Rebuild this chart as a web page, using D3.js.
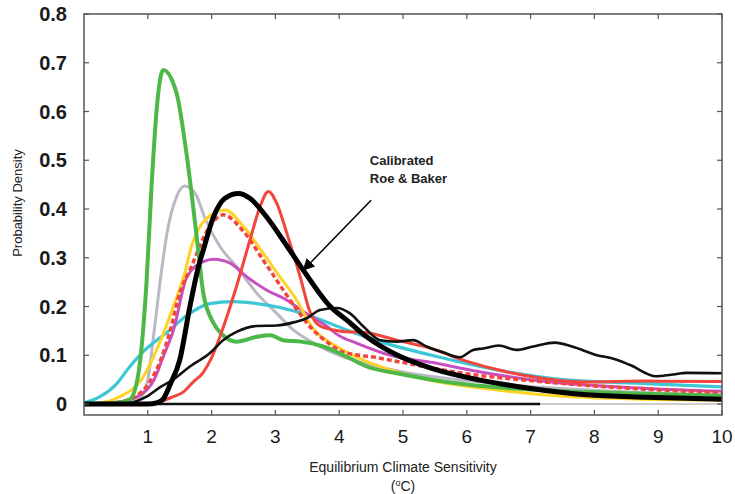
<!DOCTYPE html>
<html>
<head>
<meta charset="utf-8">
<script src="https://cdn.jsdelivr.net/npm/d3@7"></script>
<style>
  body { margin: 0; background: #fff; }
  svg { display: block; font-family: "Liberation Sans", Arial, sans-serif; }
</style>
</head>
<body>
<div id="chart"></div>
<script>
// ---- data: [sensitivity (degC), probability density] ----
var xTicks = [1, 2, 3, 4, 5, 6, 7, 8, 9, 10];
var yTicks = [0, 0.1, 0.2, 0.3, 0.4, 0.5, 0.6, 0.7, 0.8];

var grayPdf = [[0,0],[0.7,0.003],[0.9,0.015],[1.0,0.05],[1.1,0.15],[1.19,0.248],[1.3,0.35],[1.45,0.425],[1.58,0.447],[1.75,0.43],[1.9,0.38],[2.13,0.323],[2.39,0.282],[2.71,0.227],[3.02,0.186],[3.28,0.152],[3.6,0.125],[4,0.1],[4.5,0.08],[5,0.066],[6,0.048],[7,0.036],[8,0.028],[9,0.022],[10,0.018]];

var cyanPdf = [[0,0.002],[0.25,0.015],[0.5,0.04],[0.72,0.077],[0.95,0.11],[1.14,0.131],[1.35,0.152],[1.5,0.17],[1.66,0.186],[1.97,0.206],[2.34,0.21],[2.71,0.206],[3.07,0.198],[3.49,0.183],[4.12,0.152],[4.64,0.128],[5.45,0.1],[6.47,0.07],[7.51,0.05],[8.82,0.042],[10,0.035]];

var magentaPdf = [[0,0],[0.5,0.003],[0.9,0.02],[1.1,0.05],[1.25,0.1],[1.4,0.15],[1.61,0.26],[1.87,0.292],[2.03,0.297],[2.29,0.289],[2.55,0.261],[2.86,0.234],[3.18,0.213],[3.49,0.185],[3.8,0.16],[4.0,0.14],[4.27,0.125],[4.8,0.1],[5.47,0.085],[6.05,0.07],[7,0.05],[7.88,0.039],[8.82,0.032],[10,0.026]];

var yellowPdf = [[0,0],[0.3,0.003],[0.56,0.015],[0.9,0.05],[1.2,0.13],[1.4,0.2],[1.56,0.26],[1.7,0.33],[1.82,0.364],[2.03,0.391],[2.21,0.398],[2.5,0.364],[2.81,0.309],[3.07,0.261],[3.3,0.22],[3.59,0.155],[3.96,0.118],[4.38,0.09],[4.8,0.07],[5.45,0.048],[6.47,0.029],[7.5,0.016],[8.5,0.011],[10,0.008]];

var redDashPdf = [[0,0],[0.5,0.003],[0.8,0.015],[1.0,0.04],[1.16,0.077],[1.35,0.15],[1.5,0.227],[1.66,0.275],[1.97,0.364],[2.18,0.388],[2.5,0.354],[2.81,0.295],[3.02,0.254],[3.3,0.2],[3.59,0.152],[3.8,0.128],[4.06,0.107],[4.59,0.095],[5,0.085],[6,0.062],[7,0.048],[8,0.037],[9,0.029],[10,0.023]];

var greenPdf = [[0,0],[0.5,0.002],[0.72,0.01],[0.85,0.06],[0.98,0.25],[1.06,0.45],[1.15,0.62],[1.24,0.685],[1.45,0.638],[1.6,0.52],[1.79,0.316],[1.87,0.227],[2.03,0.166],[2.18,0.141],[2.39,0.128],[2.71,0.138],[2.92,0.141],[3.12,0.131],[3.4,0.128],[3.75,0.118],[4.12,0.097],[4.43,0.077],[4.9,0.063],[5.45,0.05],[6,0.04],[7,0.03],[8,0.024],[9,0.02],[10,0.017]];

var redPdf = [[0,0],[1.0,0.001],[1.2,0.005],[1.4,0.015],[1.56,0.025],[1.71,0.045],[1.87,0.065],[2.0,0.095],[2.13,0.138],[2.39,0.241],[2.6,0.336],[2.76,0.405],[2.89,0.436],[3.02,0.412],[3.18,0.35],[3.39,0.26],[3.54,0.19],[3.7,0.16],[4.0,0.15],[4.48,0.145],[4.9,0.131],[5.42,0.115],[5.94,0.09],[6.73,0.063],[7.88,0.045],[8.82,0.047],[10,0.046]];

var thinBlackPdf = [[0,0],[0.7,0.002],[0.98,0.015],[1.2,0.035],[1.4,0.05],[1.66,0.077],[1.97,0.104],[2.18,0.131],[2.39,0.148],[2.71,0.16],[3.02,0.161],[3.3,0.168],[3.49,0.176],[3.7,0.193],[3.96,0.197],[4.17,0.186],[4.38,0.159],[4.64,0.131],[4.9,0.128],[5.16,0.131],[5.37,0.118],[5.65,0.105],[5.89,0.096],[6.1,0.111],[6.26,0.114],[6.5,0.12],[6.78,0.111],[7.04,0.118],[7.38,0.126],[7.65,0.118],[8.04,0.1],[8.3,0.093],[8.56,0.08],[8.97,0.057],[9.2,0.06],[9.45,0.064],[10,0.063]];

var roeBakerPdf = [[0,0],[1.0,0],[1.15,0.003],[1.24,0.01],[1.35,0.04],[1.5,0.09],[1.66,0.2],[1.79,0.28],[1.87,0.316],[2.03,0.384],[2.21,0.422],[2.42,0.432],[2.6,0.422],[2.86,0.384],[3.12,0.336],[3.45,0.272],[3.86,0.2],[4.12,0.172],[4.43,0.138],[4.85,0.104],[5.45,0.073],[6.21,0.049],[7,0.032],[7.88,0.019],[8.82,0.014],[10,0.01]];

var zeroLine = [[0,0],[7.15,0]];

// annotation: label anchor and arrow tail/tip in data units
var annotLabel = ["Calibrated", "Roe & Baker"];
var annotPos = [4.48, 0.49];
var arrowFrom = [4.5, 0.418];
var arrowTo = [3.44, 0.275];

// ---- layout ----
var width = 735, height = 494;
var margin = {top: 14, right: 13, bottom: 79, left: 84};

var svg = d3.select("#chart").append("svg")
  .attr("width", width)
  .attr("height", height);

var x = d3.scaleLinear().domain([0, 10]).range([margin.left, width - margin.right]);
var y = d3.scaleLinear().domain([-0.0225, 0.8]).range([height - margin.bottom, margin.top]);

var line = d3.line()
  .x(function(d) { return x(d[0]); })
  .y(function(d) { return y(d[1]); })
  .curve(d3.curveMonotoneX);

var plot = svg.append("g");

// thin zero baseline and black zero segment
plot.append("line")
  .attr("x1", x(7.15)).attr("x2", x(10))
  .attr("y1", y(0)).attr("y2", y(0))
  .attr("stroke", "#9a9a9a").attr("stroke-width", 1);

plot.append("path")
  .datum(zeroLine)
  .attr("d", line)
  .attr("fill", "none")
  .attr("stroke", "#111")
  .attr("stroke-width", 2.5);

var series = [
  {data: grayPdf,      color: "#b9b9c6", w: 3},
  {data: cyanPdf,      color: "#3cc6d6", w: 3.2},
  {data: magentaPdf,   color: "#c84fc0", w: 3},
  {data: yellowPdf,    color: "#ffd324", w: 3},
  {data: redDashPdf,   color: "#f2453c", w: 3.5, dash: "5,3"},
  {data: greenPdf,     color: "#4cb848", w: 4},
  {data: redPdf,       color: "#f2453c", w: 3},
  {data: thinBlackPdf, color: "#111", w: 2.6},
  {data: roeBakerPdf,  color: "#000", w: 5}
];

series.forEach(function(s) {
  plot.append("path")
    .datum(s.data)
    .attr("d", line)
    .attr("fill", "none")
    .attr("stroke", s.color)
    .attr("stroke-width", s.w)
    .attr("stroke-linejoin", "round")
    .attr("stroke-dasharray", s.dash || null);
});

// frame
svg.append("rect")
  .attr("x", x(0)).attr("y", y(0.8))
  .attr("width", x(10) - x(0))
  .attr("height", y(-0.0225) - y(0.8))
  .attr("fill", "none")
  .attr("stroke", "#555")
  .attr("stroke-width", 1.5);

// inward ticks on all sides
var frame = svg.append("g").attr("stroke", "#555").attr("stroke-width", 1.2);
yTicks.forEach(function(t) {
  frame.append("line").attr("x1", x(0)).attr("x2", x(0) + 5).attr("y1", y(t)).attr("y2", y(t));
  frame.append("line").attr("x1", x(10)).attr("x2", x(10) - 5).attr("y1", y(t)).attr("y2", y(t));
});
xTicks.forEach(function(t) {
  frame.append("line").attr("x1", x(t)).attr("x2", x(t)).attr("y1", y(-0.0225)).attr("y2", y(-0.0225) - 5);
  frame.append("line").attr("x1", x(t)).attr("x2", x(t)).attr("y1", y(0.8)).attr("y2", y(0.8) + 5);
});

// tick labels
svg.append("g").selectAll("text")
  .data(yTicks)
  .join("text")
  .attr("x", x(0) - 17)
  .attr("y", function(d) { return y(d); })
  .attr("dy", "0.36em")
  .attr("text-anchor", "end")
  .attr("font-size", 20)
  .attr("font-weight", "bold")
  .attr("fill", "#1a1a1a")
  .text(function(d) { return d === 0 ? "0" : d3.format(".1f")(d); });

svg.append("g").selectAll("text")
  .data(xTicks)
  .join("text")
  .attr("x", function(d) { return x(d); })
  .attr("y", 443)
  .attr("text-anchor", function(d) { return d === 10 ? "middle" : "middle"; })
  .attr("font-size", 19)
  .attr("fill", "#1a1a1a")
  .text(function(d) { return d; });

// axis titles
svg.append("text")
  .attr("transform", "translate(22," + 203 + ") rotate(-90)")
  .attr("text-anchor", "middle")
  .attr("font-size", 13)
  .attr("fill", "#222")
  .text("Probability Density");

svg.append("text")
  .attr("x", 403).attr("y", 472)
  .attr("text-anchor", "middle")
  .attr("font-size", 14)
  .attr("fill", "#222")
  .text("Equilibrium Climate Sensitivity");

var unit = svg.append("text")
  .attr("x", 403).attr("y", 491)
  .attr("text-anchor", "middle")
  .attr("font-size", 14)
  .attr("fill", "#222");
unit.append("tspan").text("(");
unit.append("tspan").attr("font-size", 9).attr("dy", -5).text("o");
unit.append("tspan").attr("dy", 5).text("C)");

// annotation
var ann = svg.append("text")
  .attr("x", x(annotPos[0]))
  .attr("y", y(annotPos[1]))
  .attr("font-size", 13)
  .attr("font-weight", "bold")
  .attr("fill", "#222");
ann.selectAll("tspan")
  .data(annotLabel)
  .join("tspan")
  .attr("x", x(annotPos[0]))
  .attr("dy", function(d, i) { return i === 0 ? 0 : 18; })
  .text(function(d) { return d; });

svg.append("defs").append("marker")
  .attr("id", "head")
  .attr("viewBox", "0 0 10 10")
  .attr("refX", 9).attr("refY", 5)
  .attr("markerWidth", 12).attr("markerHeight", 12)
  .attr("markerUnits", "userSpaceOnUse")
  .attr("orient", "auto")
  .append("path")
  .attr("d", "M0,0 L10,5 L0,10 Z")
  .attr("fill", "#000");

svg.append("line")
  .attr("x1", x(arrowFrom[0])).attr("y1", y(arrowFrom[1]))
  .attr("x2", x(arrowTo[0])).attr("y2", y(arrowTo[1]))
  .attr("stroke", "#000")
  .attr("stroke-width", 1.5)
  .attr("marker-end", "url(#head)");
</script>
</body>
</html>
